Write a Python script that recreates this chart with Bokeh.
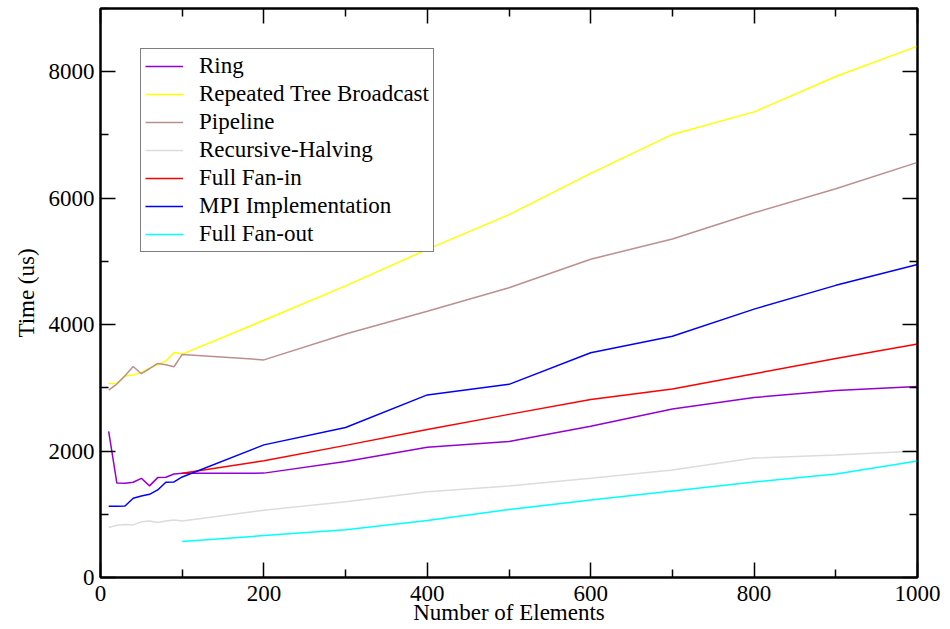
from bokeh.plotting import figure
from bokeh.models import Range1d, FixedTicker, LinearAxis, Legend, LegendItem
from bokeh.embed import file_html
from bokeh.resources import INLINE

# ---- data ----
x_small = [10, 20, 30, 40, 50, 60, 70, 80, 90, 100, 200, 300, 400, 500, 600, 700, 800, 900, 1000]
x_large = [100, 200, 300, 400, 500, 600, 700, 800, 900, 1000]

ring = [2310, 1496, 1490, 1506, 1569, 1449, 1580, 1585, 1638, 1648, 1651, 1835, 2060, 2150, 2393, 2665, 2847, 2957, 3023]
tree_bcast = [3070, 3070, 3186, 3202, 3244, 3312, 3365, 3423, 3560, 3534, 4068, 4613, 5190, 5740, 6392, 7008, 7365, 7925, 8405]
pipeline = [2965, 3060, 3191, 3338, 3223, 3302, 3386, 3365, 3333, 3528, 3442, 3852, 4210, 4584, 5035, 5353, 5768, 6148, 6566]
rec_halving = [790, 826, 837, 832, 880, 895, 869, 895, 911, 895, 1065, 1200, 1355, 1448, 1569, 1701, 1890, 1938, 2001]
fan_in = [1648, 1845, 2090, 2340, 2580, 2815, 2981, 3222, 3465, 3692]
mpi = [1127, 1128, 1132, 1253, 1290, 1316, 1385, 1506, 1511, 1590, 2098, 2373, 2888, 3055, 3555, 3815, 4245, 4621, 4950]
fan_out = [569, 663, 755, 900, 1074, 1227, 1369, 1512, 1638, 1843]

series = [
    ("Ring", x_small, ring, "#9400d3"),
    ("Repeated Tree Broadcast", x_small, tree_bcast, "#ffff00"),
    ("Pipeline", x_small, pipeline, "#bc8f8f"),
    ("Recursive-Halving", x_small, rec_halving, "#dcdcdc"),
    ("Full Fan-in", x_large, fan_in, "#ff0000"),
    ("MPI Implementation", x_small, mpi, "#0000ff"),
    ("Full Fan-out", x_large, fan_out, "#00ffff"),
]

x_ticks = [0, 200, 400, 600, 800, 1000]
x_minor = [100, 300, 500, 700, 900]
y_ticks = [0, 2000, 4000, 6000, 8000]
y_minor = [1000, 3000, 5000, 7000, 9000]
x_title = "Number of Elements"
y_title = "Time (us)"

FONT = "'Liberation Serif', 'Times New Roman', serif"
FS = "23px"

p = figure(width=950, height=629, output_backend="svg", toolbar_location=None,
           x_range=Range1d(0, 1000), y_range=Range1d(0, 9000),
           min_border_left=100, min_border_right=33, min_border_top=8, min_border_bottom=52,
           x_axis_label=x_title, y_axis_label=y_title)
p.background_fill_color = "white"
p.border_fill_color = "white"
p.grid.visible = False
p.outline_line_color = "black"
p.outline_line_width = 2

p.xaxis.ticker = FixedTicker(ticks=x_ticks, minor_ticks=x_minor)
p.yaxis.ticker = FixedTicker(ticks=y_ticks, minor_ticks=y_minor)

def style_axis(ax, labels=True):
    ax.axis_line_color = "black"
    ax.axis_line_width = 2
    ax.major_tick_in = 15
    ax.major_tick_out = 0
    ax.minor_tick_in = 8
    ax.minor_tick_out = 0
    ax.major_tick_line_width = 1.5
    ax.minor_tick_line_width = 1.5
    ax.major_tick_line_color = "black"
    ax.minor_tick_line_color = "black"
    ax.major_label_text_font = FONT
    ax.major_label_text_font_size = FS
    ax.major_label_text_color = "black"
    ax.major_label_standoff = 6
    ax.axis_label_text_font = FONT
    ax.axis_label_text_font_size = FS
    ax.axis_label_text_font_style = "normal"
    ax.axis_label_text_color = "black"
    if not labels:
        ax.major_label_overrides = {t: "" for t in ax.ticker.ticks}
        ax.major_label_standoff = 0

for ax in p.xaxis:
    style_axis(ax)
    ax.major_label_standoff = 8
    ax.axis_label_standoff = -4
for ax in p.yaxis:
    style_axis(ax)
    ax.axis_label_standoff = 7

top = LinearAxis(ticker=FixedTicker(ticks=x_ticks, minor_ticks=x_minor))
style_axis(top, labels=False)
p.add_layout(top, "above")
right = LinearAxis(ticker=FixedTicker(ticks=y_ticks, minor_ticks=y_minor))
style_axis(right, labels=False)
p.add_layout(right, "right")

items = []
for name, xs, ys, col in series:
    r = p.line(xs, ys, line_color=col, line_width=1.5)
    items.append(LegendItem(label=name, renderers=[r]))

legend = Legend(items=items, location="top_left", margin=40)
legend.label_text_font = FONT
legend.label_text_font_size = FS
legend.label_text_color = "black"
legend.border_line_color = "black"
legend.border_line_width = 1.5
legend.background_fill_color = "white"
legend.background_fill_alpha = 1.0
legend.glyph_width = 38
legend.glyph_height = 20
legend.label_standoff = 16
legend.label_height = 20
legend.spacing = 2
legend.padding = 4
p.add_layout(legend, "center")

open("out.html", "w").write(file_html(p, INLINE))
